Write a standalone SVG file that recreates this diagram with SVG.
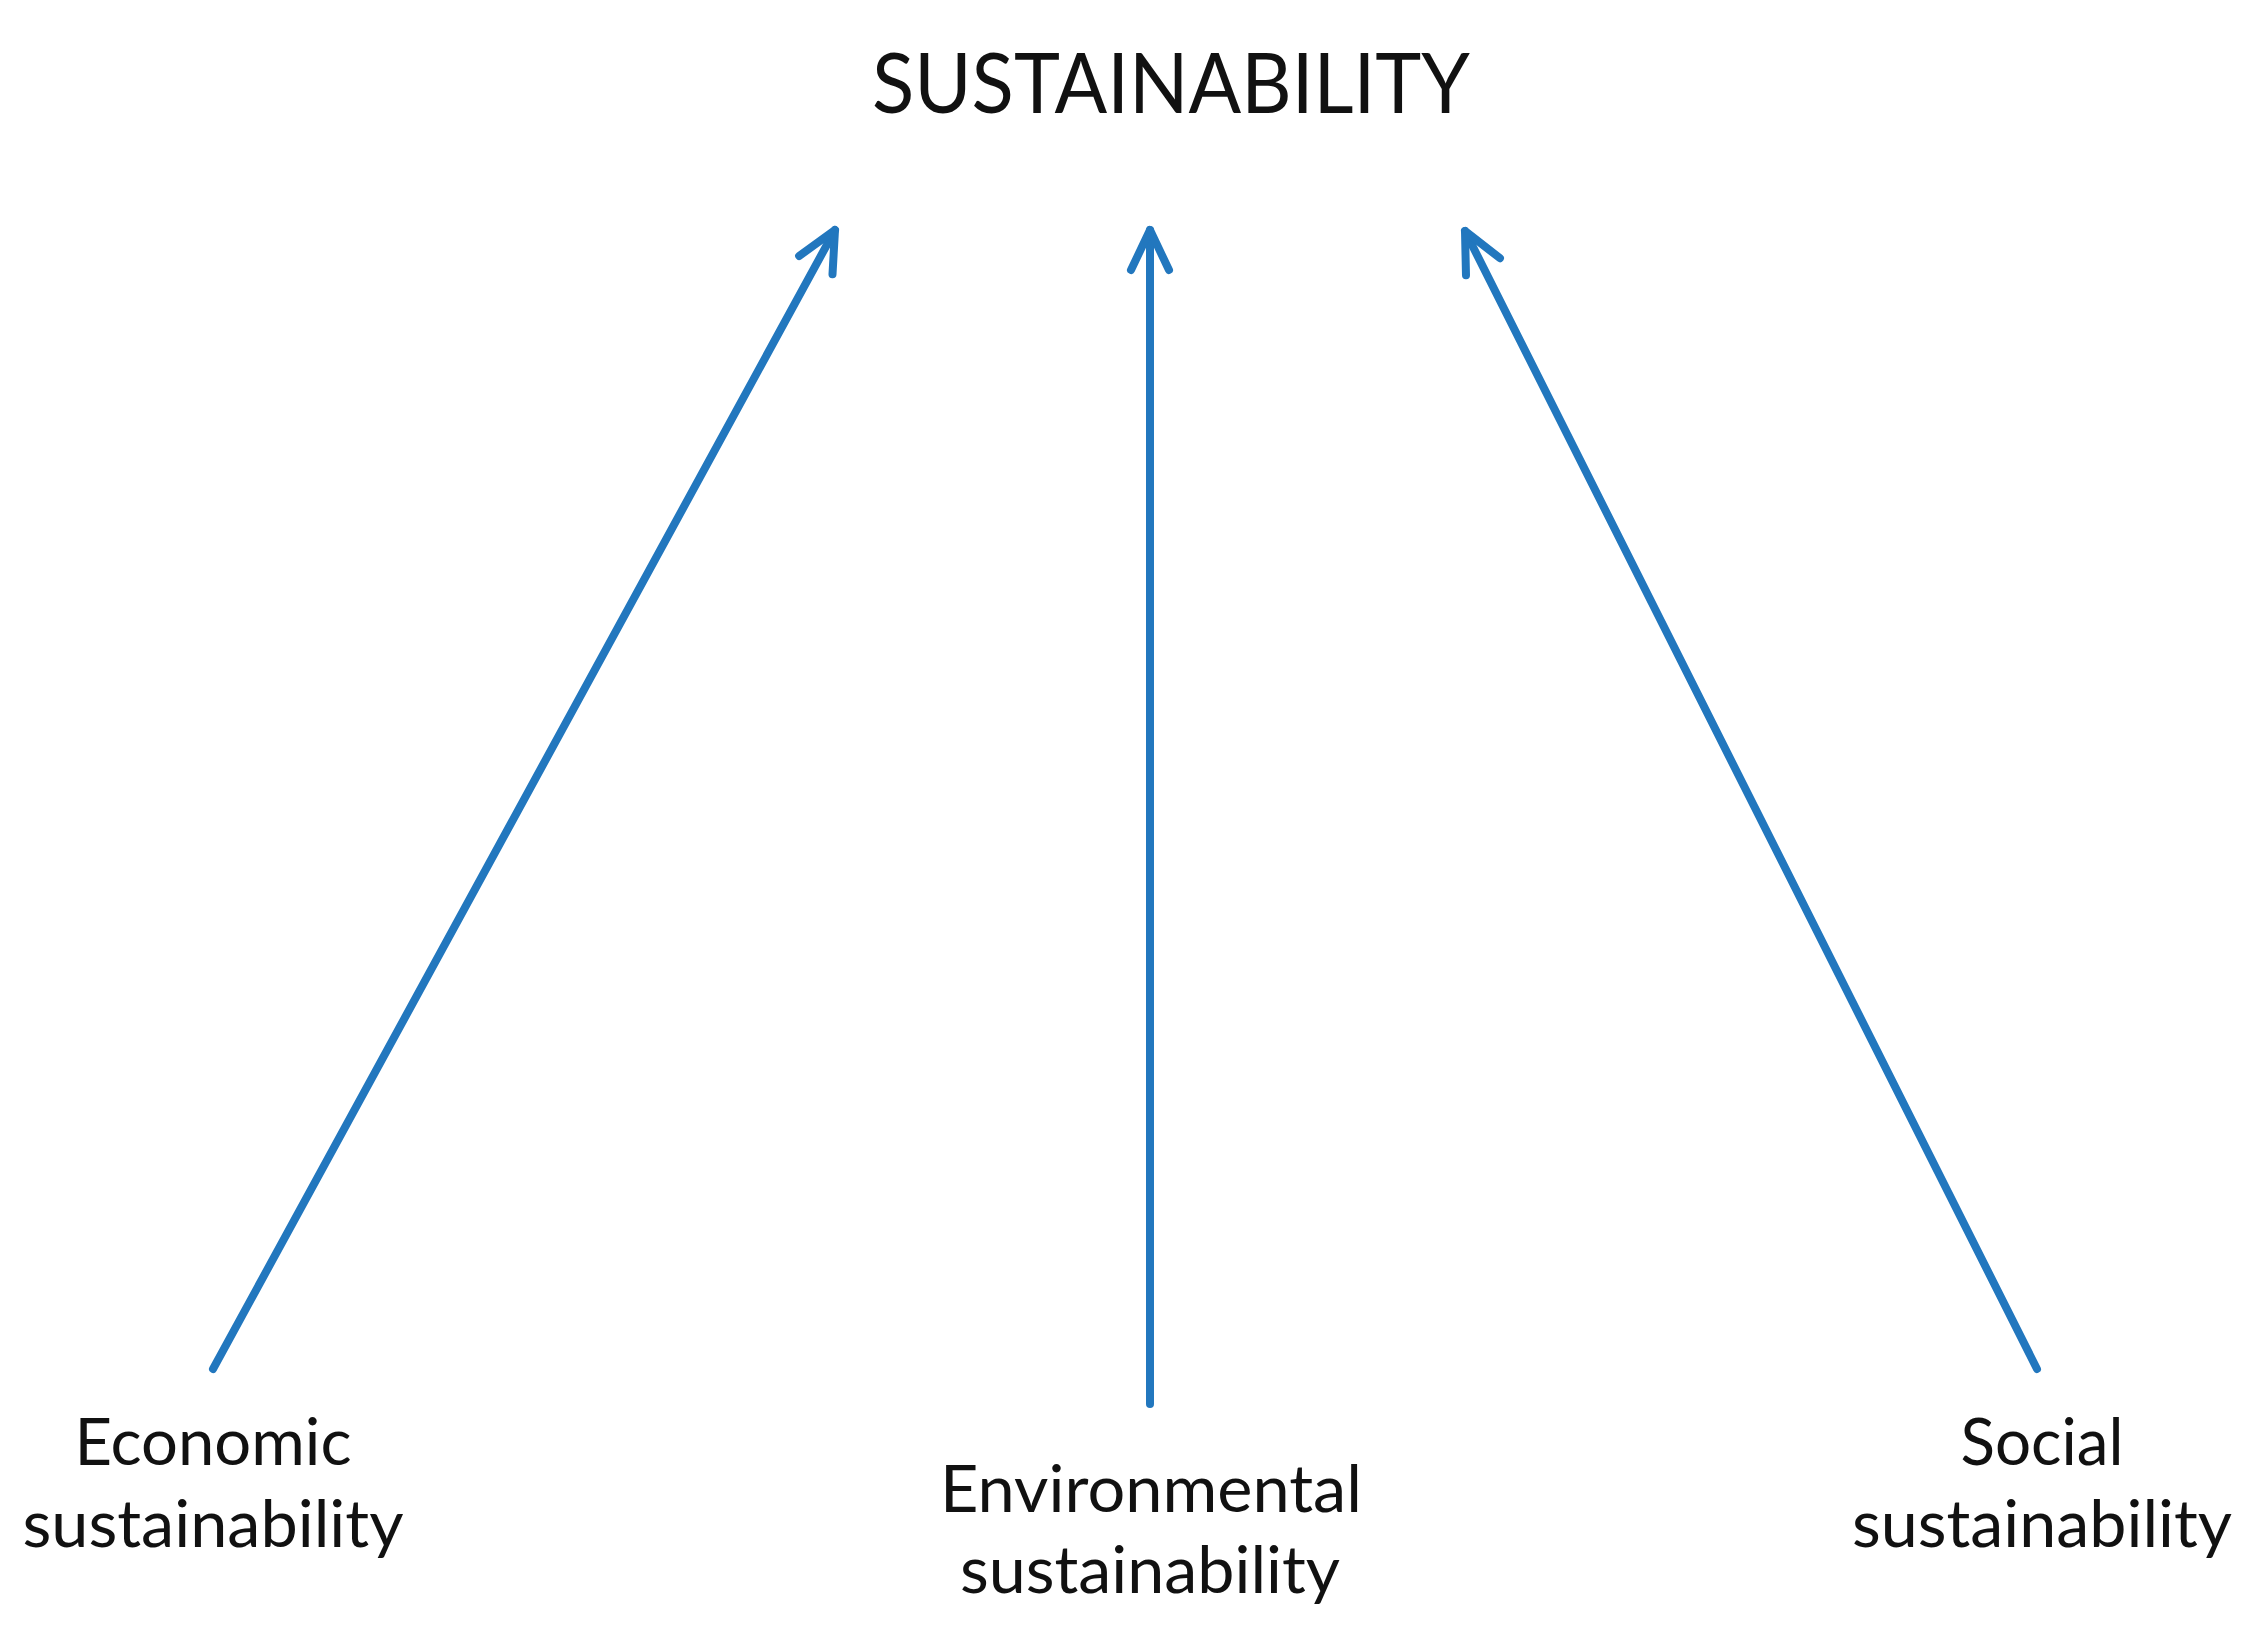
<svg xmlns="http://www.w3.org/2000/svg" width="2255" height="1630" viewBox="0 0 2255 1630">
<style>
.lbl{font-family:Lato,"Open Sans","Liberation Sans",sans-serif;fill:#111;text-anchor:middle}
.title{font-size:84px}
.sub{font-size:65px}
.conn{stroke:#2277be;stroke-width:8;fill:none;stroke-linecap:round;marker-end:url(#arr)}
</style>
<defs>
<marker id="arr" markerUnits="userSpaceOnUse" viewBox="-50 -26 58 52" markerWidth="58" markerHeight="52" refX="0" refY="0" orient="auto">
<path d="M-40,-19 L0,0 L-40,19" fill="none" stroke="#2277be" stroke-width="8" stroke-linecap="round" stroke-linejoin="round"/>
</marker>
</defs>
<rect width="2255" height="1630" fill="#fff"/>
<g id="sustainability">
<text class="lbl title" x="1171" y="113" textLength="598" lengthAdjust="spacingAndGlyphs">SUSTAINABILITY</text>
</g>
<g id="economic">
<text class="lbl sub" x="213" y="1465" textLength="277" lengthAdjust="spacingAndGlyphs">Economic</text>
<text class="lbl sub" x="213" y="1547" textLength="381" lengthAdjust="spacingAndGlyphs">sustainability</text>
</g>
<g id="environmental">
<text class="lbl sub" x="1151" y="1512" textLength="422" lengthAdjust="spacingAndGlyphs">Environmental</text>
<text class="lbl sub" x="1150" y="1593" textLength="380" lengthAdjust="spacingAndGlyphs">sustainability</text>
</g>
<g id="social">
<text class="lbl sub" x="2042" y="1465" textLength="163" lengthAdjust="spacingAndGlyphs">Social</text>
<text class="lbl sub" x="2042" y="1547" textLength="380" lengthAdjust="spacingAndGlyphs">sustainability</text>
</g>
<g id="connectors">
<path class="conn" d="M213,1369 L835,230"/>
<path class="conn" d="M1150,1404 L1150,230"/>
<path class="conn" d="M2037,1369 L1465,231"/>
</g>
</svg>
